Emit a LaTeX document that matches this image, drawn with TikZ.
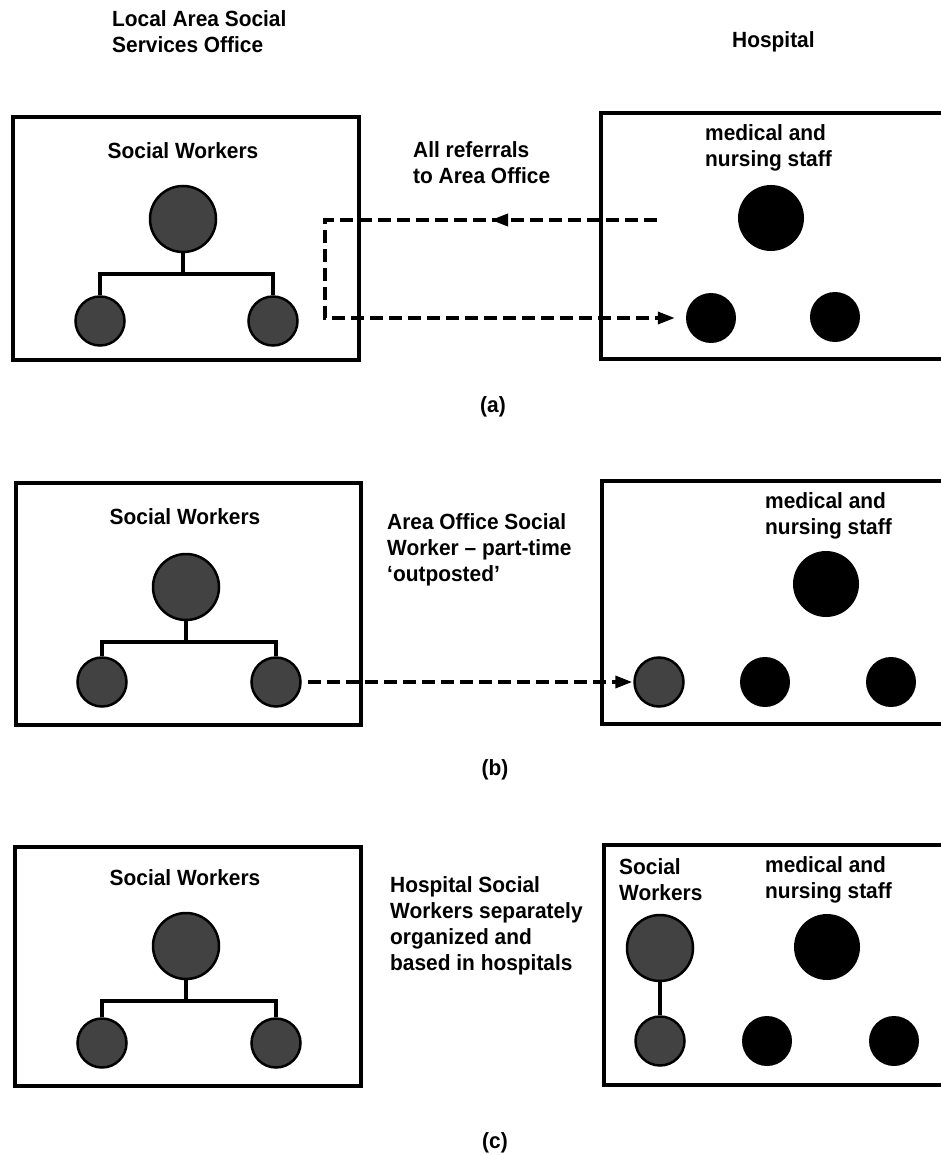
\documentclass[tikz,border=0pt]{standalone}
\usepackage{fontspec}
\setmainfont{Liberation Sans}[FakeStretch=0.95]
\usetikzlibrary{arrows.meta,decorations.markings}
\begin{document}
\begin{tikzpicture}[x=1pt,y=-1pt,
  box/.style={draw, line width=3.5pt},
  lbl/.style={font=\bfseries\fontsize{22}{26}\selectfont, inner sep=0pt},
  lblL/.style={lbl, align=left, anchor=west},
  swbig/.style={circle, draw, line width=2.5pt, fill=black!74, minimum size=66pt, inner sep=0pt},
  swsmall/.style={circle, draw, line width=2.5pt, fill=black!74, minimum size=49pt, inner sep=0pt},
  mbig/.style={circle, fill=black, minimum size=66pt, inner sep=0pt},
  msmall/.style={circle, fill=black, minimum size=50pt, inner sep=0pt},
  tree/.style={line width=4pt},
  dashc/.style={line width=3.5pt, dash pattern=on 13pt off 6pt},
  tip/.tip={Triangle[length=17pt,width=12pt]},
  midarrow/.style={postaction=decorate, decoration={markings, mark=at position 166pt with {\arrow{tip}}}}
]
\useasboundingbox (0,0) rectangle (941,1155);
\fill[white] (0,0) rectangle (941,1155);

% headings
\node[lblL] (hl) at (112,31.5) {Local Area Social\\Services Office};
\node[lblL] (hh) at (732,42) {Hospital};

% ================= (a) =================
\draw[box] (13,117) rectangle (359,360);
\draw[box] (945,113) -| (601,359) -- (945,359);
\node[lbl] (aSW) at (183,151) {Social Workers};
\node[swbig] (a1) at (183,219) {};
\node[swsmall] (a2) at (100,321) {};
\node[swsmall] (a3) at (273,321) {};
\coordinate (ja) at (183,274);
\draw[tree] (a1.south) -- (ja);
\draw[tree] (a2.north) |- (ja) -| (a3.north);
\node[lblL] (aT) at (413,163) {All referrals\\to Area Office};
\node[lblL] (aM) at (705,148) {medical and\\nursing staff};
\node[mbig] (ha) at (771,218) {};
\node[msmall] (ha1) at (711,318) {};
\node[msmall] (ha2) at (835,317) {};
\coordinate (s1) at (657,220);
\coordinate (c1) at (325,220);
\coordinate (c2) at (325,318);
\draw[dashc, midarrow, -{tip}, shorten >=11pt] (s1) -- (c1) -- (c2) -- (ha1.west);
\node[lbl] (la) at (493,407) {(a)};

% ================= (b) =================
\draw[box] (16,483) rectangle (361,725);
\draw[box] (945,481) -| (602,724) -- (945,724);
\node[lbl] (bSW) at (185,517) {Social Workers};
\node[swbig] (b1) at (186,587) {};
\node[swsmall] (b2) at (102,682) {};
\node[swsmall] (b3) at (276,682) {};
\coordinate (jb) at (186,642);
\draw[tree] (b1.south) -- (jb);
\draw[tree] (b2.north) |- (jb) -| (b3.north);
\node[lblL] (bT) at (387,549.5) {Area Office Social\\Worker -- part-time\\‘outposted’};
\node[lblL] (bM) at (765,515.5) {medical and\\nursing staff};
\node[mbig] (hb) at (826,584) {};
\node[swsmall] (hb0) at (659,682) {};
\node[msmall] (hb1) at (765,682) {};
\node[msmall] (hb2) at (891,682) {};
\draw[dashc, -{tip}, shorten <=6pt, shorten >=1pt] (b3.east) -- (hb0.west);
\node[lbl] (lb) at (495,770) {(b)};

% ================= (c) =================
\draw[box] (15,847) rectangle (361,1086);
\draw[box] (945,845) -| (604,1085) -- (945,1085);
\node[lbl] (cSW) at (185,878) {Social Workers};
\node[swbig] (c1n) at (186,946) {};
\node[swsmall] (c2n) at (102,1043) {};
\node[swsmall] (c3n) at (276,1043) {};
\coordinate (jc) at (186,1001);
\draw[tree] (c1n.south) -- (jc);
\draw[tree] (c2n.north) |- (jc) -| (c3n.north);
\node[lblL] (cT) at (390,925.5) {Hospital Social\\Workers separately\\organized and\\based in hospitals};
\node[lblL] (cS) at (619,880) {Social\\Workers};
\node[lblL] (cM) at (765,880) {medical and\\nursing staff};
\node[swbig] (hc0) at (660,948) {};
\node[swsmall] (hc1) at (660,1041) {};
\draw[tree] (hc0.south) -- (hc1.north);
\node[mbig] (hc) at (827,947) {};
\node[msmall] (hc2) at (767,1041) {};
\node[msmall] (hc3) at (894,1041) {};
\node[lbl] (lc) at (495,1143) {(c)};
\end{tikzpicture}
\end{document}
